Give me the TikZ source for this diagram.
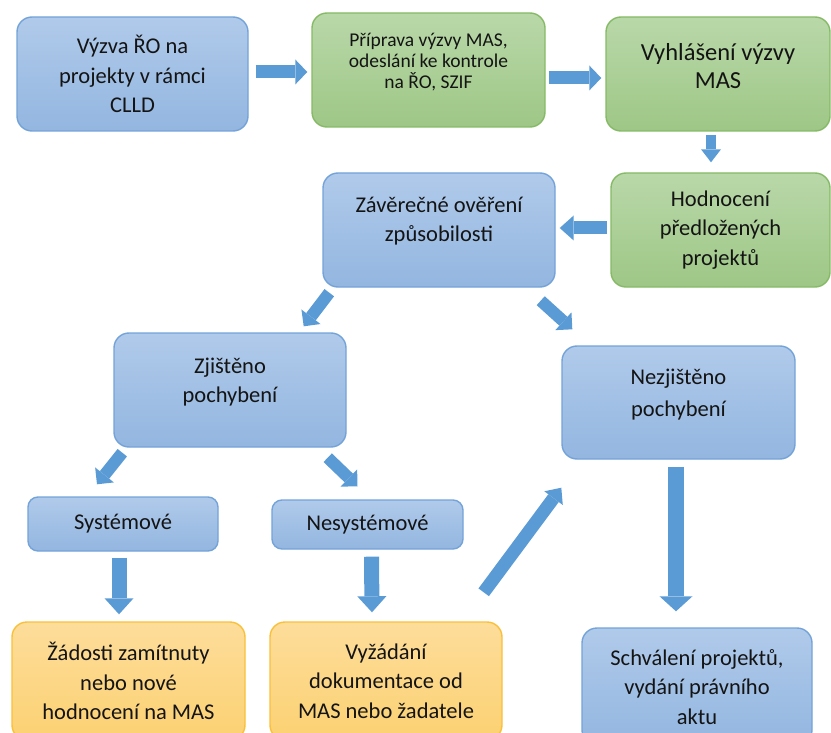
\documentclass[tikz,border=0pt]{standalone}
\usepackage{fontspec}
\setmainfont{Carlito}
\usetikzlibrary{arrows.meta,calc}
\definecolor{bluetop}{HTML}{B0CAEA}
\definecolor{bluebot}{HTML}{93B6E0}
\definecolor{blueedge}{HTML}{73A3D8}
\definecolor{greentop}{HTML}{B9D8A9}
\definecolor{greenbot}{HTML}{9EC786}
\definecolor{greenedge}{HTML}{86BA66}
\definecolor{orgtop}{HTML}{FDDD9B}
\definecolor{orgbot}{HTML}{FCD172}
\definecolor{orgedge}{HTML}{F9C03A}
\definecolor{arrowc}{HTML}{5B9BD5}
\definecolor{txtc}{HTML}{141414}
\tikzset{
  box/.style={rectangle, rounded corners=15pt, line width=1.4pt, inner sep=0pt,
    align=center, text=txtc, font=\fontsize{22.5}{29.5}\selectfont},
  bluebox/.style={box, draw=blueedge, top color=bluetop, bottom color=bluebot},
  greenbox/.style={box, draw=greenedge, top color=greentop, bottom color=greenbot},
  orgbox/.style={box, draw=orgedge, top color=orgtop, bottom color=orgbot},
  txt/.style={align=center, text=txtc, inner sep=0pt, font=\fontsize{22.5}{29.5}\selectfont},
  blockarrow/.style n args={3}{draw=arrowc, line width=#1,
    -{Triangle[width=#2, length=#3, line width=0pt]}},
}
\begin{document}
\begin{tikzpicture}[x=1pt, y=-1pt]
\path[use as bounding box] (0,0) rectangle (831,733);
\clip (0,0) rectangle (831,733);
% boxes
\node[bluebox, minimum width=231pt, minimum height=114pt] (b1) at (132.5,74)
  {Výzva ŘO na\\projekty v rámci\\CLLD};
\node[greenbox, minimum width=233pt, minimum height=114pt] (b2) at (428.5,70) {};
\node[txt, font=\fontsize{19.5}{21}\selectfont] (t2) at ($(b2.center)+(0,-7.5)$)
  {Příprava výzvy MAS,\\odeslání ke kontrole\\na ŘO, SZIF};
\node[greenbox, minimum width=224pt, minimum height=114pt] (b3) at (718,74) {};
\node[txt, font=\fontsize{24.5}{27.5}\selectfont] (t3) at ($(b3.center)+(0,-8)$)
  {Vyhlášení výzvy\\MAS};
\node[greenbox, minimum width=219pt, minimum height=114pt] (b4) at (720.5,230)
  {Hodnocení\\předložených\\projektů};
\node[bluebox, minimum width=232pt, minimum height=114pt] (b5) at (439,230) {};
\node[txt] (t5) at ($(b5.center)+(0,-9)$) {Závěrečné ověření\\způsobilosti};
\node[bluebox, minimum width=232pt, minimum height=114pt] (b6) at (230,390) {};
\node[txt] (t6) at ($(b6.center)+(0,-8)$) {Zjištěno\\pochybení};
\node[bluebox, minimum width=233pt, minimum height=113pt] (b7) at (678.5,402.5) {};
\node[txt, font=\fontsize{22.5}{31.5}\selectfont] (t7) at ($(b7.center)+(0,-8)$) {Nezjištěno\\pochybení};
\node[bluebox, rounded corners=10pt, minimum width=190pt, minimum height=54pt] (b8) at (123,524) {Systémové};
\node[bluebox, rounded corners=10pt, minimum width=191pt, minimum height=49pt] (b9) at (367.5,524.5) {Nesystémové};
\node[orgbox, minimum width=233pt, minimum height=118pt] (b10) at (128.5,681)
  {Žádosti zamítnuty\\nebo nové\\hodnocení na MAS};
\node[orgbox, minimum width=232pt, minimum height=118pt] (b11) at (386,681)
  {Vyžádání\\dokumentace od\\MAS nebo žadatele};
\node[bluebox, minimum width=230pt, minimum height=117pt] (b12) at (697,686.5) {};
\node[txt] (t12) at ($(b12.center)+(0,0.5)$) {Schválení projektů,\\vydání právního\\aktu};
% arrows
\draw[blockarrow={13pt}{25pt}{12pt}] ($(b1.east)+(7,-2)$) -- ($(b2.west)+(-4,2)$);
\draw[blockarrow={13pt}{25pt}{12pt}] ($(b2.east)+(3,8)$) -- ($(b3.west)+(-4,4)$);
\draw[blockarrow={10pt}{20pt}{13pt}] ($(b3.south)+(-7,3)$) -- ($(b4.north)+(-9.5,-10)$);
\draw[blockarrow={13pt}{25pt}{14pt}] ($(b4.west)+(-3,-2)$) -- ($(b5.east)+(4,-2)$);
\draw[blockarrow={12pt}{24pt}{12pt}] ($(b5.south west)+(7,5)$) -- ($(b6.north east)+(-43,-6)$);
\draw[blockarrow={12pt}{24pt}{12pt}] ($(b5.south east)+(-15,13)$) -- ($(b7.north west)+(11,-16)$);
\draw[blockarrow={12pt}{24pt}{12pt}] ($(b6.south west)+(9,5)$) -- ($(b8.north)+(-26,-12)$);
\draw[blockarrow={12pt}{24pt}{12pt}] ($(b6.south east)+(-19,10)$) -- ($(b9.north)+(-10,-13)$);
\draw[blockarrow={15pt}{29pt}{16pt}] ($(b8.south)+(-4,6)$) -- ($(b10.north)+(-9.5,-7)$);
\draw[blockarrow={15pt}{29pt}{16pt}] ($(b9.south)+(4,7)$) -- ($(b11.north)+(-14,-9)$);
\draw[blockarrow={13pt}{23pt}{13pt}] ($(b11.north east)+(-19,-29)$) -- ($(b7.south west)+(0,28)$);
\draw[blockarrow={16pt}{33pt}{15pt}] ($(b7.south)+(-2.5,7)$) -- ($(b12.north)+(-21,-16)$);
\end{tikzpicture}
\end{document}
